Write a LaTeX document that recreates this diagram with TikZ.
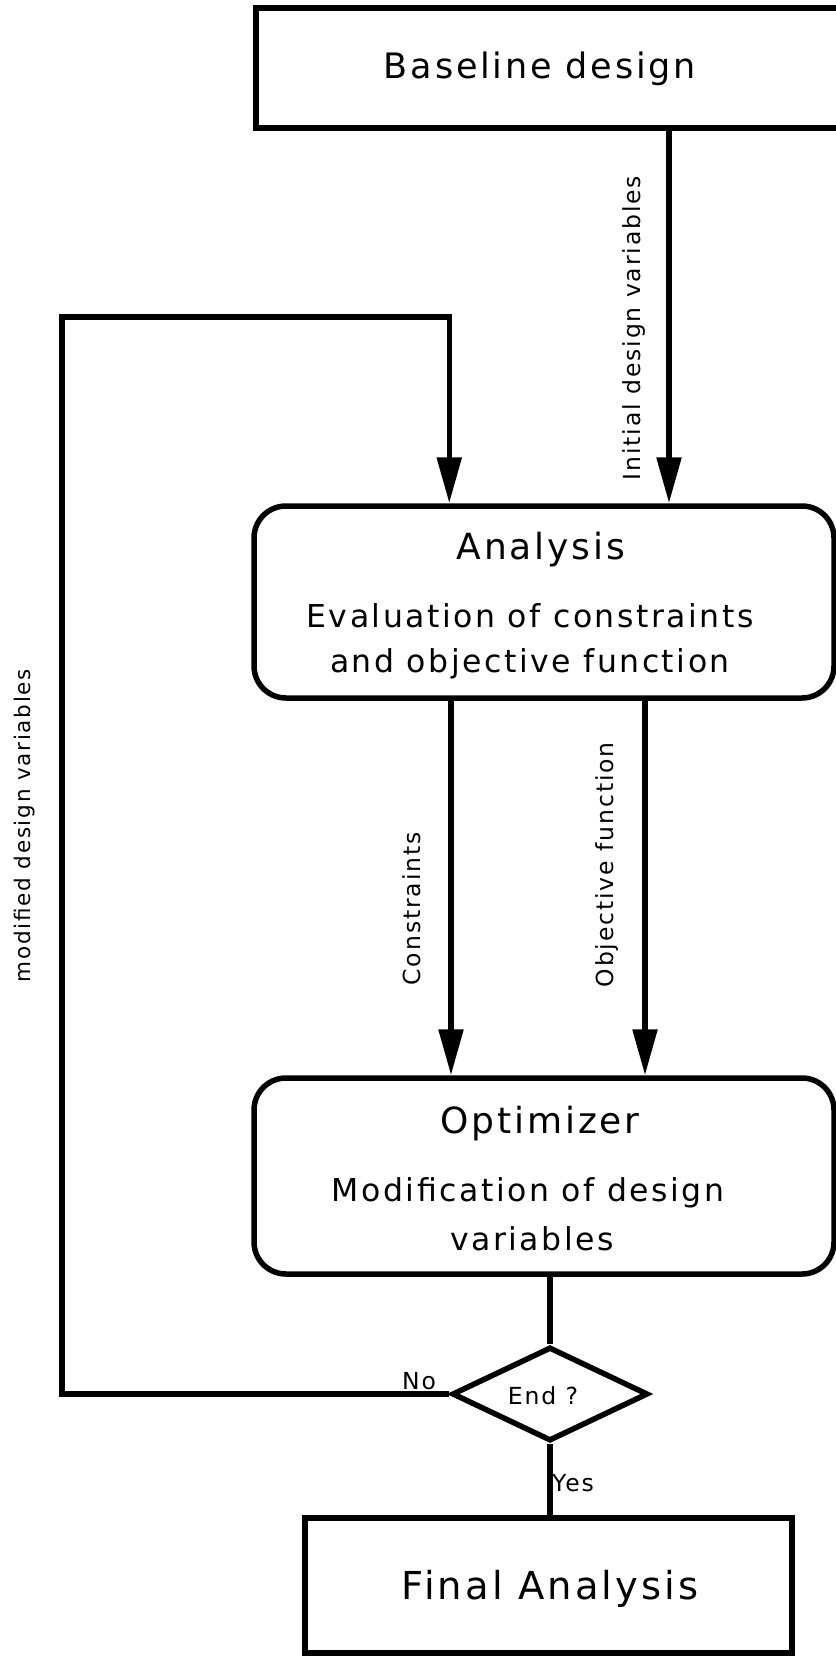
\documentclass[tikz,border=0pt]{standalone}
\usepackage{fontspec}
\setmainfont{DejaVu Sans}[LetterSpace=8]
\usetikzlibrary{arrows.meta,shapes.geometric}
\begin{document}
\begin{tikzpicture}[x=1pt,y=-1pt,
  line width=5.5pt,
  boxstyle/.style={draw, line width=5.5pt, inner sep=0pt},
  rbox/.style={boxstyle, rounded corners=32pt},
  arr/.style={-{Triangle[length=46pt,width=24pt]}},
  txt/.style={inner sep=0pt},
  big/.style={txt, font=\fontsize{36}{40}\selectfont},
  mid/.style={txt, font=\fontsize{31.5}{36}\selectfont},
  sml/.style={txt, font=\fontsize{23.5}{28}\selectfont},
]
\useasboundingbox (0,0) rectangle (835,1656);
% boxes
\node[boxstyle, minimum width=604pt, minimum height=120pt] (base) at (558,68) {};
\node[rbox, minimum width=580pt, minimum height=192pt] (ana) at (544,602) {};
\node[rbox, minimum width=580pt, minimum height=196pt] (opt) at (544,1176) {};
\node[boxstyle, diamond, minimum width=196pt, minimum height=94pt] (dia) at (550,1394) {};
\node[boxstyle, minimum width=487pt, minimum height=135pt] (fin) at (548.5,1585.5) {};
% texts
\node[txt, font=\fontsize{35}{40}\selectfont] (basetxt) at (540,69) {Baseline design};
\node[big] (anatitle) at (541,550) {Analysis};
\node[mid] (ana1) at (530,616) {Evaluation of constraints};
\node[mid] (ana2) at (530,664) {and objective function};
\node[big] (opttitle) at (540,1124) {Optimizer};
\node[mid] (opt1) at (528,1193) {Modification of design};
\node[mid] (opt2) at (532,1239) {variables};
\node[sml] (endtxt) at (543,1396) {End ?};
\node[txt, font=\fontsize{38.5}{42}\selectfont] (fintxt) at (550,1589) {Final Analysis};
% connectors
\coordinate (xinit) at (669,0);
\coordinate (looptl) at (62,317);
\coordinate (xcon) at (451,0);
\coordinate (xobj) at (645,0);
\draw[arr] (base.south -| xinit) -- (ana.north -| xinit);
\draw[arr] (dia.west) -| (looptl) -| (ana.north -| dia.west);
\draw[arr] (ana.south -| xcon) -- (opt.north -| xcon);
\draw[arr] (ana.south -| xobj) -- (opt.north -| xobj);
\draw (opt.south -| dia.north) -- (dia.north);
\draw (dia.south) -- (fin.north -| dia.south);
% labels
\node[sml, rotate=90, anchor=west] (linit) at (634,483) {Initial design variables};
\node[txt, font=\fontsize{21.5}{26}\selectfont, rotate=90, anchor=west] (lmod) at (25,985) {modified design variables};
\node[sml, rotate=90, anchor=west] (lcon) at (412,988) {Constraints};
\node[sml, rotate=90, anchor=west] (lobj) at (607,990) {Objective function};
\node[sml] (lno) at (419,1381) {No};
\node[sml] (lyes) at (573,1483) {Yes};
\end{tikzpicture}
\end{document}
